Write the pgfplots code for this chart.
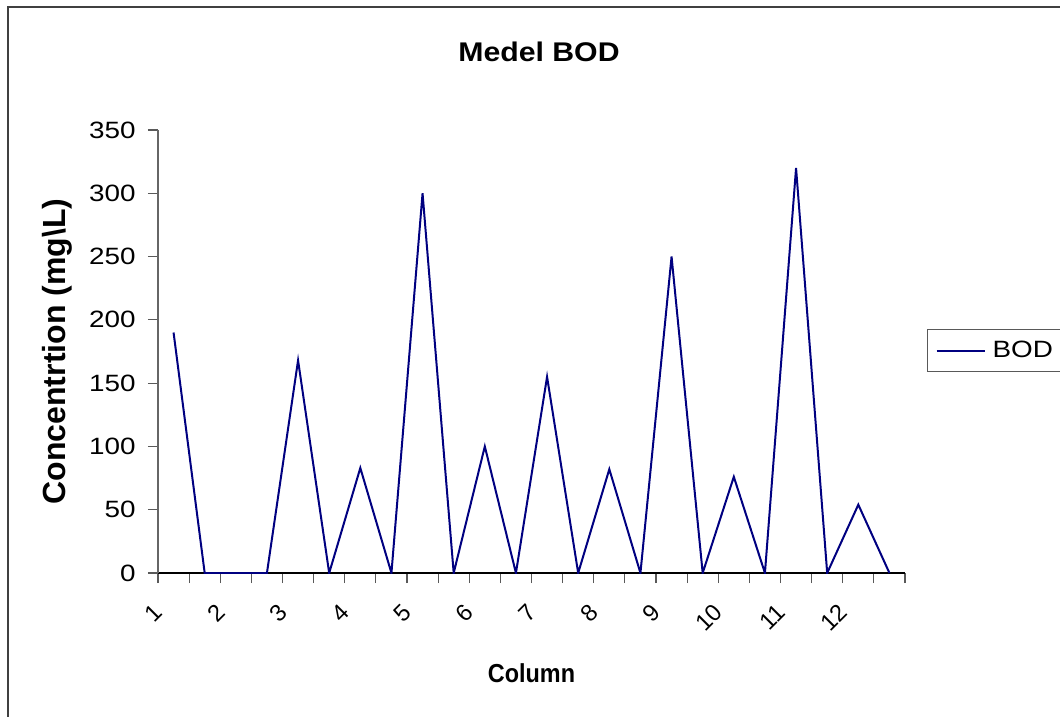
\documentclass[border=0pt]{standalone}
\usepackage{fontspec}
\setmainfont{Liberation Sans}
\newfontfamily\widefont[FakeStretch=1.18]{Liberation Sans}
\newfontfamily\titlefont[FakeStretch=1.12]{Liberation Sans}
\newfontfamily\narrowfont[FakeStretch=0.9]{Liberation Sans}
\usepackage{pgfplots}
\pgfplotsset{compat=1.18}
\definecolor{navyline}{RGB}{0,0,128}
\begin{document}
\begin{tikzpicture}
\path[use as bounding box] (0pt,0pt) rectangle (530pt,-358.5pt);
\begin{scope}
\clip (0pt,0pt) rectangle (530pt,-358.5pt);
\draw[line width=0.8pt, black!75] (4pt,-3.5pt) rectangle (545pt,-375pt);
\begin{axis}[
  at={(79pt,-286.5pt)}, anchor=south west,
  scale only axis, width=373.5pt, height=221.5pt,
  xmin=0.5, xmax=24.5, ymin=0, ymax=350,
  axis lines=left, axis line style={-},
  x axis line style={black, line width=0.6pt},
  y axis line style={gray!80!black, line width=0.6pt},
  tick align=outside,
  major tick length=5pt,
  tick style={gray!70!black, line width=0.6pt},
  xtick={0.5,1.5,...,24.5}, xticklabels={},
  extra x ticks={1,3,...,23},
  extra x tick labels={1,2,3,4,5,6,7,8,9,10,11,12},
  extra x tick style={major tick length=0pt, tick style={draw=none}},
  xticklabel style={inner sep=0pt, anchor=east, xshift=-7.5pt, yshift=-17.5pt, rotate=45, font=\fontsize{11.8}{14}\selectfont},
  ytick={0,50,...,350},
  yticklabel style={inner sep=0pt, anchor=east, xshift=-6pt, font=\widefont\fontsize{11.8}{14}\selectfont},
  /pgf/number format/assume math mode=true,
  title={Medel BOD},
  title style={at={(axis description cs:0.510,1.176)}, anchor=center, yshift=-6pt, inner sep=0pt, font=\titlefont\bfseries\fontsize{13.5}{16}\selectfont},
  xlabel={Column},
  xlabel style={at={(axis description cs:0.5,-0.2257)}, anchor=center, inner sep=0pt, font=\narrowfont\bfseries\fontsize{13}{15}\selectfont},
  ylabel={Concentrtion (mg\textbackslash L)},
  ylabel style={at={(axis description cs:-0.1352,0.5)}, anchor=center, inner sep=0pt, font=\bfseries\fontsize{16}{18}\selectfont},
  legend style={at={(axis description cs:1.0294,0.502)}, anchor=west, draw=gray!70!black, line width=0.6pt, inner xsep=4pt, inner ysep=3.75pt, font=\widefont\fontsize{11.8}{14}\selectfont},
  legend image code/.code={\draw[#1] (0pt,0pt) -- (24pt,0pt);},
]
\addplot[navyline, line width=1pt] coordinates {
(1,190) (2,0) (3,0) (4,0) (5,168) (6,0) (7,83) (8,0) (9,300) (10,0) (11,100) (12,0)
(13,155) (14,0) (15,82) (16,0) (17,250) (18,0) (19,76) (20,0) (21,320) (22,0) (23,54) (24,0)
};
\addlegendentry{\hspace{1.5pt}BOD\hspace{10pt}}
\end{axis}
\end{scope}
\end{tikzpicture}
\end{document}
